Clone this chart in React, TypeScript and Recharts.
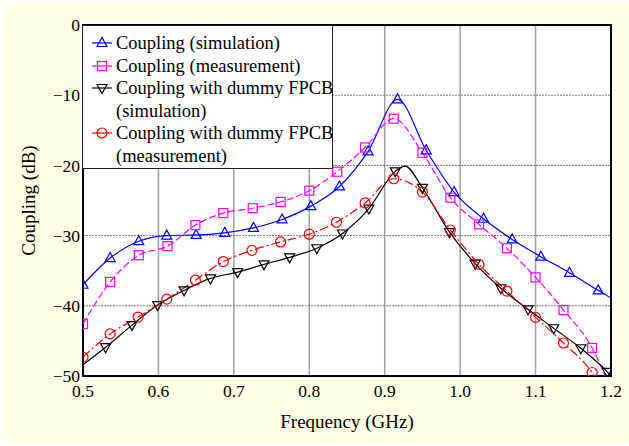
import React from 'react';
import {
  LineChart,
  Line,
  XAxis,
  YAxis,
  CartesianGrid,
  ReferenceArea,
} from 'recharts';

// Coupling (simulation) - blue triangles
const simFreq = [0.5, 0.536, 0.574, 0.611, 0.65, 0.688, 0.726, 0.764, 0.802, 0.84, 0.878, 0.917, 0.955, 0.992, 1.031, 1.069, 1.107, 1.145, 1.183];
const simDb = [-37.0, -33.2, -30.8, -30.0, -29.9, -29.6, -28.9, -27.7, -25.8, -23.0, -18.0, -10.6, -17.85, -23.8, -27.6, -30.55, -33.0, -35.3, -37.8];
const simExtra: [number, number][] = [[1.2, -38.9]];

// Coupling (measurement) - magenta squares
const measFreq = [0.5, 0.536, 0.574, 0.612, 0.649, 0.686, 0.725, 0.762, 0.8, 0.837, 0.874, 0.912, 0.95, 0.987, 1.025, 1.062, 1.1, 1.137, 1.175];
const measDb = [-42.6, -36.6, -32.8, -31.5, -28.5, -26.8, -26.1, -25.2, -23.6, -20.9, -17.45, -13.35, -18.2, -24.6, -28.4, -31.8, -35.95, -40.6, -46.0];
const measExtra: [number, number][] = [[1.2, -52]];

// Coupling with dummy FPCB (simulation) - black inverted triangles
const dummySimFreq = [0.53, 0.565, 0.599, 0.634, 0.669, 0.705, 0.74, 0.774, 0.81, 0.844, 0.879, 0.914, 0.95, 0.986, 1.02, 1.054, 1.09, 1.124, 1.16, 1.195];
const dummySimDb = [-45.9, -42.75, -39.9, -37.8, -36.1, -35.2, -34.1, -33.1, -31.8, -29.7, -26.15, -20.85, -23.2, -29.5, -34.0, -37.5, -40.5, -43.2, -46.05, -49.4];
const dummySimExtra: [number, number][] = [[0.5, -48.4], [0.927, -20.1], [1.2, -50]];

// Coupling with dummy FPCB (measurement) - red circles
const dummyMeasFreq = [0.5, 0.536, 0.573, 0.611, 0.649, 0.686, 0.724, 0.762, 0.8, 0.836, 0.874, 0.912, 0.95, 0.987, 1.025, 1.062, 1.1, 1.137, 1.175];
const dummyMeasDb = [-47.3, -44.0, -41.6, -39.05, -36.35, -33.7, -32.1, -30.9, -29.8, -28.1, -25.35, -21.9, -23.8, -29.2, -34.1, -37.9, -41.65, -45.3, -49.5];
const dummyMeasExtra: [number, number][] = [[1.19, -52]];

const xTicks = [0.5, 0.6, 0.7, 0.8, 0.9, 1.0, 1.1, 1.2];
const yTicks = [-50, -40, -30, -20, -10, 0];

const FONT = '"Liberation Serif", "Times New Roman", serif';

type Pt = { f: number; db: number; mk: boolean };

const build = (freq: number[], db: number[], extra: [number, number][]): Pt[] =>
  [
    ...freq.map((f, i) => ({ f, db: db[i], mk: true })),
    ...extra.map(([f, d]) => ({ f, db: d, mk: false })),
  ].sort((a, b) => a.f - b.f);

const simData = build(simFreq, simDb, simExtra);
const measData = build(measFreq, measDb, measExtra);
const dummySimData = build(dummySimFreq, dummySimDb, dummySimExtra);
const dummyMeasData = build(dummyMeasFreq, dummyMeasDb, dummyMeasExtra);

type Shape = 'up' | 'square' | 'down' | 'circle';

const Marker = ({ shape, cx, cy, color }: { shape: Shape; cx: number; cy: number; color: string }) => {
  const common = { fill: 'none', stroke: color, strokeWidth: 1.2 };
  if (shape === 'up')
    return <polygon points={`${cx},${cy - 5.5} ${cx - 5},${cy + 3.5} ${cx + 5},${cy + 3.5}`} {...common} />;
  if (shape === 'down')
    return <polygon points={`${cx},${cy + 5.5} ${cx - 5},${cy - 3.5} ${cx + 5},${cy - 3.5}`} {...common} />;
  if (shape === 'square') return <rect x={cx - 4.5} y={cy - 4.5} width={9} height={9} {...common} />;
  return <circle cx={cx} cy={cy} r={5} {...common} />;
};

const dotFor = (shape: Shape, color: string) => (props: any) => {
  const { cx, cy, payload, index } = props;
  if (!payload || !payload.mk || cx == null || cy == null) return <g key={index} />;
  return (
    <g key={index}>
      <Marker shape={shape} cx={cx} cy={cy} color={color} />
    </g>
  );
};

const series = [
  { name: 'Coupling (simulation)', data: simData, color: '#0000ff', dash: undefined, shape: 'up' as Shape },
  { name: 'Coupling (measurement)', data: measData, color: '#ff00ff', dash: '7 3', shape: 'square' as Shape },
  { name: 'Coupling with dummy FPCB\n(simulation)', data: dummySimData, color: '#000000', dash: undefined, shape: 'down' as Shape },
  { name: 'Coupling with dummy FPCB\n(measurement)', data: dummyMeasData, color: '#ff0000', dash: '9 3 2 3', shape: 'circle' as Shape },
];

const fmtY = (v: number) => (v < 0 ? '\u2212' + Math.abs(v) : String(v));

const LegendBox = () => (
  <div
    style={{
      position: 'absolute',
      left: 82,
      top: 25,
      width: 251,
      height: 144,
      background: 'white',
      border: '1.5px solid #222',
      fontFamily: FONT,
      fontSize: 18.5,
      lineHeight: '22.5px',
      paddingTop: 6,
      boxSizing: 'border-box',
    }}
  >
    {series.map((s) => {
      const lines = s.name.split('\n');
      return (
        <div key={s.name} style={{ position: 'relative', paddingLeft: 33 }}>
          <svg width={24} height={22} style={{ position: 'absolute', left: 8, top: 0 }}>
            <line x1={1} y1={11} x2={21} y2={11} stroke={s.color} strokeWidth={1.2} />
            <Marker shape={s.shape} cx={11} cy={11} color={s.color} />
          </svg>
          {lines.map((l) => (
            <div key={l} style={{ whiteSpace: 'nowrap' }}>
              {l}
            </div>
          ))}
        </div>
      );
    })}
  </div>
);

const App = () => {
  return (
    <div style={{ position: 'fixed', left: 0, top: 0, width: 629, height: 446, background: 'white' }}>
      <div style={{ position: 'absolute', left: 3, top: 3, right: 0, bottom: 3, background: '#ffffe6' }} />
      <div style={{ position: 'absolute', left: 80, top: 22, width: 535, height: 357, background: 'white' }} />
      <div style={{ position: 'absolute', left: 0, top: 0 }}>
        <LineChart width={629} height={446} margin={{ top: 25, right: 18, left: 0, bottom: 0 }}>
          <CartesianGrid horizontal={false} stroke="#a0a0a0" strokeWidth={1.5} />
          <CartesianGrid vertical={false} stroke="#777" strokeDasharray="2 1" />
          <XAxis
            dataKey="f"
            type="number"
            domain={[0.5, 1.2]}
            ticks={xTicks}
            allowDataOverflow
            height={70}
            tickSize={0}
            tickMargin={9}
            axisLine={false}
            tickFormatter={(v: number) => v.toFixed(1)}
            tick={{ fontSize: 17.5, fill: '#000', fontFamily: FONT }}
            label={{
              value: 'Frequency (GHz)',
              position: 'insideBottom',
              offset: 18,
              style: { fontSize: 19, fill: '#000', fontFamily: FONT },
            }}
          />
          <YAxis
            dataKey="db"
            type="number"
            domain={[-50, 0]}
            ticks={yTicks}
            allowDataOverflow
            width={83}
            tickSize={0}
            tickMargin={3}
            axisLine={false}
            tickFormatter={fmtY}
            tick={{ fontSize: 17.5, fill: '#000', fontFamily: FONT }}
            label={{
              value: 'Coupling (dB)',
              angle: -90,
              position: 'insideLeft',
              offset: 28,
              style: { fontSize: 19, fill: '#000', fontFamily: FONT, textAnchor: 'middle' },
            }}
          />
          <ReferenceArea x1={0.5} x2={1.2} y1={-50} y2={0} fill="none" stroke="#000" strokeWidth={2} />
          {series.map((s) => (
            <Line
              key={s.name}
              data={s.data}
              dataKey="db"
              type="monotone"
              stroke={s.color}
              strokeWidth={1.2}
              strokeDasharray={s.dash}
              dot={dotFor(s.shape, s.color)}
              activeDot={false}
              isAnimationActive={false}
            />
          ))}
        </LineChart>
      </div>
      <LegendBox />
    </div>
  );
};

export default App;
